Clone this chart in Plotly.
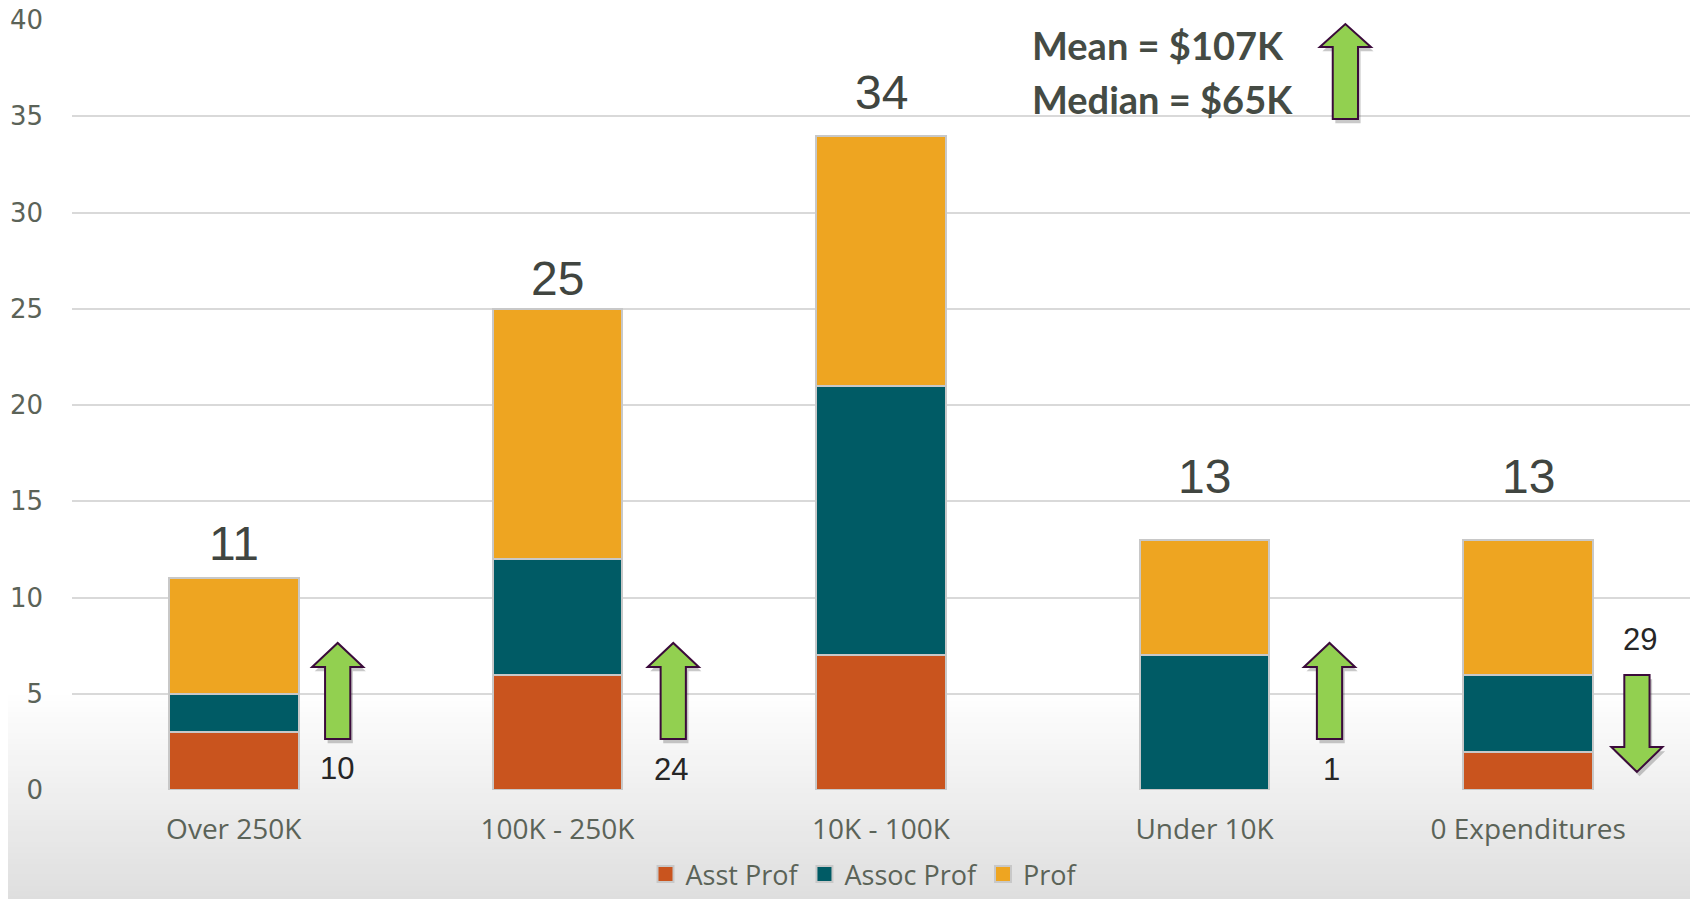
import plotly.graph_objects as go

# Data
categories = ["Over 250K", "100K - 250K", "10K - 100K", "Under 10K", "0 Expenditures"]
asst_prof = [3, 6, 7, 0, 2]
assoc_prof = [2, 6, 14, 7, 4]
prof = [6, 13, 13, 6, 7]
totals = [a + b + c for a, b, c in zip(asst_prof, assoc_prof, prof)]
change_labels = ["10", "24", "1", "29"]
mean_text = "Mean = $107K"
median_text = "Median = $65K"

COLORS = {"Asst Prof": "#C9541E", "Assoc Prof": "#005B65", "Prof": "#EEA521"}
GRAY_TEXT = "#5b6358"

# page body has an 8px margin, so the figure is shrunk to fit inside it
BODY = 8
PLOT_L, PLOT_T, PLOT_B, PLOT_R = 72, 20, 790, 1690


def px_x(px):
    return (px - PLOT_L) / (PLOT_R - PLOT_L)


def px_y(py):
    return (PLOT_B - py) / (PLOT_B - PLOT_T)


fig = go.Figure()
for name, vals in [("Asst Prof", asst_prof), ("Assoc Prof", assoc_prof), ("Prof", prof)]:
    fig.add_trace(go.Bar(
        x=categories, y=vals, name=name, showlegend=False,
        marker=dict(color=COLORS[name], line=dict(color="#c8c8c8", width=2)),
    ))
    # legend entry with a bigger square swatch
    fig.add_trace(go.Scatter(
        x=[None], y=[None], mode="markers", name=name,
        marker=dict(symbol="square", size=18, color=COLORS[name], line=dict(color="#c8c8c8", width=2)),
    ))

# Totals above bars (pixel offsets as in the original slide)
total_shift = [35, 30, 43, 63, 63]
for cat, tot, sh in zip(categories, totals, total_shift):
    fig.add_annotation(x=cat, y=tot, text=str(tot), showarrow=False, yanchor="middle",
                       yshift=sh, font=dict(family="Liberation Sans", size=48, color="#404540"))

# Block arrows (green, dark purple outline) with soft shadow
arrows = [
    dict(cx=0.321, tip=7.64, base=6.39, tail=2.65),
    dict(cx=1.358, tip=7.64, base=6.39, tail=2.65),
    dict(cx=3.386, tip=7.64, base=6.39, tail=2.65),
    dict(cx=4.336, tip=0.94, base=2.23, tail=5.97),
    dict(cx=3.435, tip=39.79, base=38.6, tail=34.86),
]
hw, sw = 0.079, 0.039


def arrow_path(cx, tip, base, tail, dx=0.0, dy=0.0):
    pts = [(cx - sw, tail), (cx - sw, base), (cx - hw, base), (cx, tip),
           (cx + hw, base), (cx + sw, base), (cx + sw, tail)]
    return "M " + " L ".join(f"{x + dx},{y + dy}" for x, y in pts) + " Z"


for a in arrows:
    fig.add_shape(type="path", path=arrow_path(**a, dx=0.008, dy=-0.22), xref="x", yref="y",
                  fillcolor="rgba(60,60,60,0.28)", line=dict(width=0), layer="above")
    fig.add_shape(type="path", path=arrow_path(**a), xref="x", yref="y",
                  fillcolor="#92D050", line=dict(color="#3B0B3B", width=2), layer="above")

# Numbers next to the arrows
label_pos = [(0.318, 1.14), (1.352, 1.05), (3.392, 1.05), (4.346, 7.84)]
for (lx, ly), txt in zip(label_pos, change_labels):
    fig.add_annotation(x=lx, y=ly, text=txt, showarrow=False, yanchor="middle",
                       font=dict(family="Liberation Sans", size=31, color="#262626"))

# Mean / median
for txt, py in [(mean_text, 45), (median_text, 99)]:
    fig.add_annotation(x=px_x(1030), y=px_y(py), xref="paper", yref="paper",
                       text=txt, showarrow=False, xanchor="left", yanchor="middle",
                       font=dict(family="Lato", size=38, color="#454b44", weight="bold"))

# Background gradient toward the bottom of the slide
n_strips = 40
top_px, bot_px = 690, 907
for i in range(n_strips):
    p0 = top_px + (bot_px - top_px) * i / n_strips
    p1 = top_px + (bot_px - top_px) * (i + 1) / n_strips + 0.8
    v = int(round(255 - 34 * (i + 0.5) / n_strips))
    fig.add_shape(type="rect", xref="paper", yref="paper", x0=-0.06, x1=1.02,
                  y0=px_y(p1), y1=px_y(p0),
                  fillcolor=f"rgb({v},{v},{v})", line=dict(width=0), layer="below")

fig.update_layout(
    width=1698 - 2 * BODY, height=907 - 2 * BODY,
    barmode="stack", bargap=0.6,
    paper_bgcolor="white", plot_bgcolor="rgba(0,0,0,0)",
    margin=dict(l=PLOT_L - BODY, r=1698 - BODY - PLOT_R, t=PLOT_T - BODY, b=907 - BODY - PLOT_B,
                autoexpand=False),
    showlegend=True,
    legend=dict(orientation="h", x=px_x(864), xanchor="center", y=px_y(899), yanchor="bottom",
                font=dict(family="Open Sans", size=27, color=GRAY_TEXT),
                bgcolor="rgba(0,0,0,0)", traceorder="normal", itemwidth=30),
    xaxis=dict(type="category", range=[-0.5, 4.5], showgrid=False, showline=False,
               ticks="", ticklabelstandoff=20,
               tickfont=dict(family="Open Sans", size=28, color=GRAY_TEXT)),
    yaxis=dict(range=[0, 40], dtick=5, showgrid=True, gridcolor="#d9d9d9", gridwidth=2,
               zeroline=False, showline=False, ticks="", ticklabelstandoff=28,
               ticklabeloverflow="allow",
               tickfont=dict(family="DejaVu Sans", size=26, color=GRAY_TEXT)),
)

fig.write_html("out.html")
